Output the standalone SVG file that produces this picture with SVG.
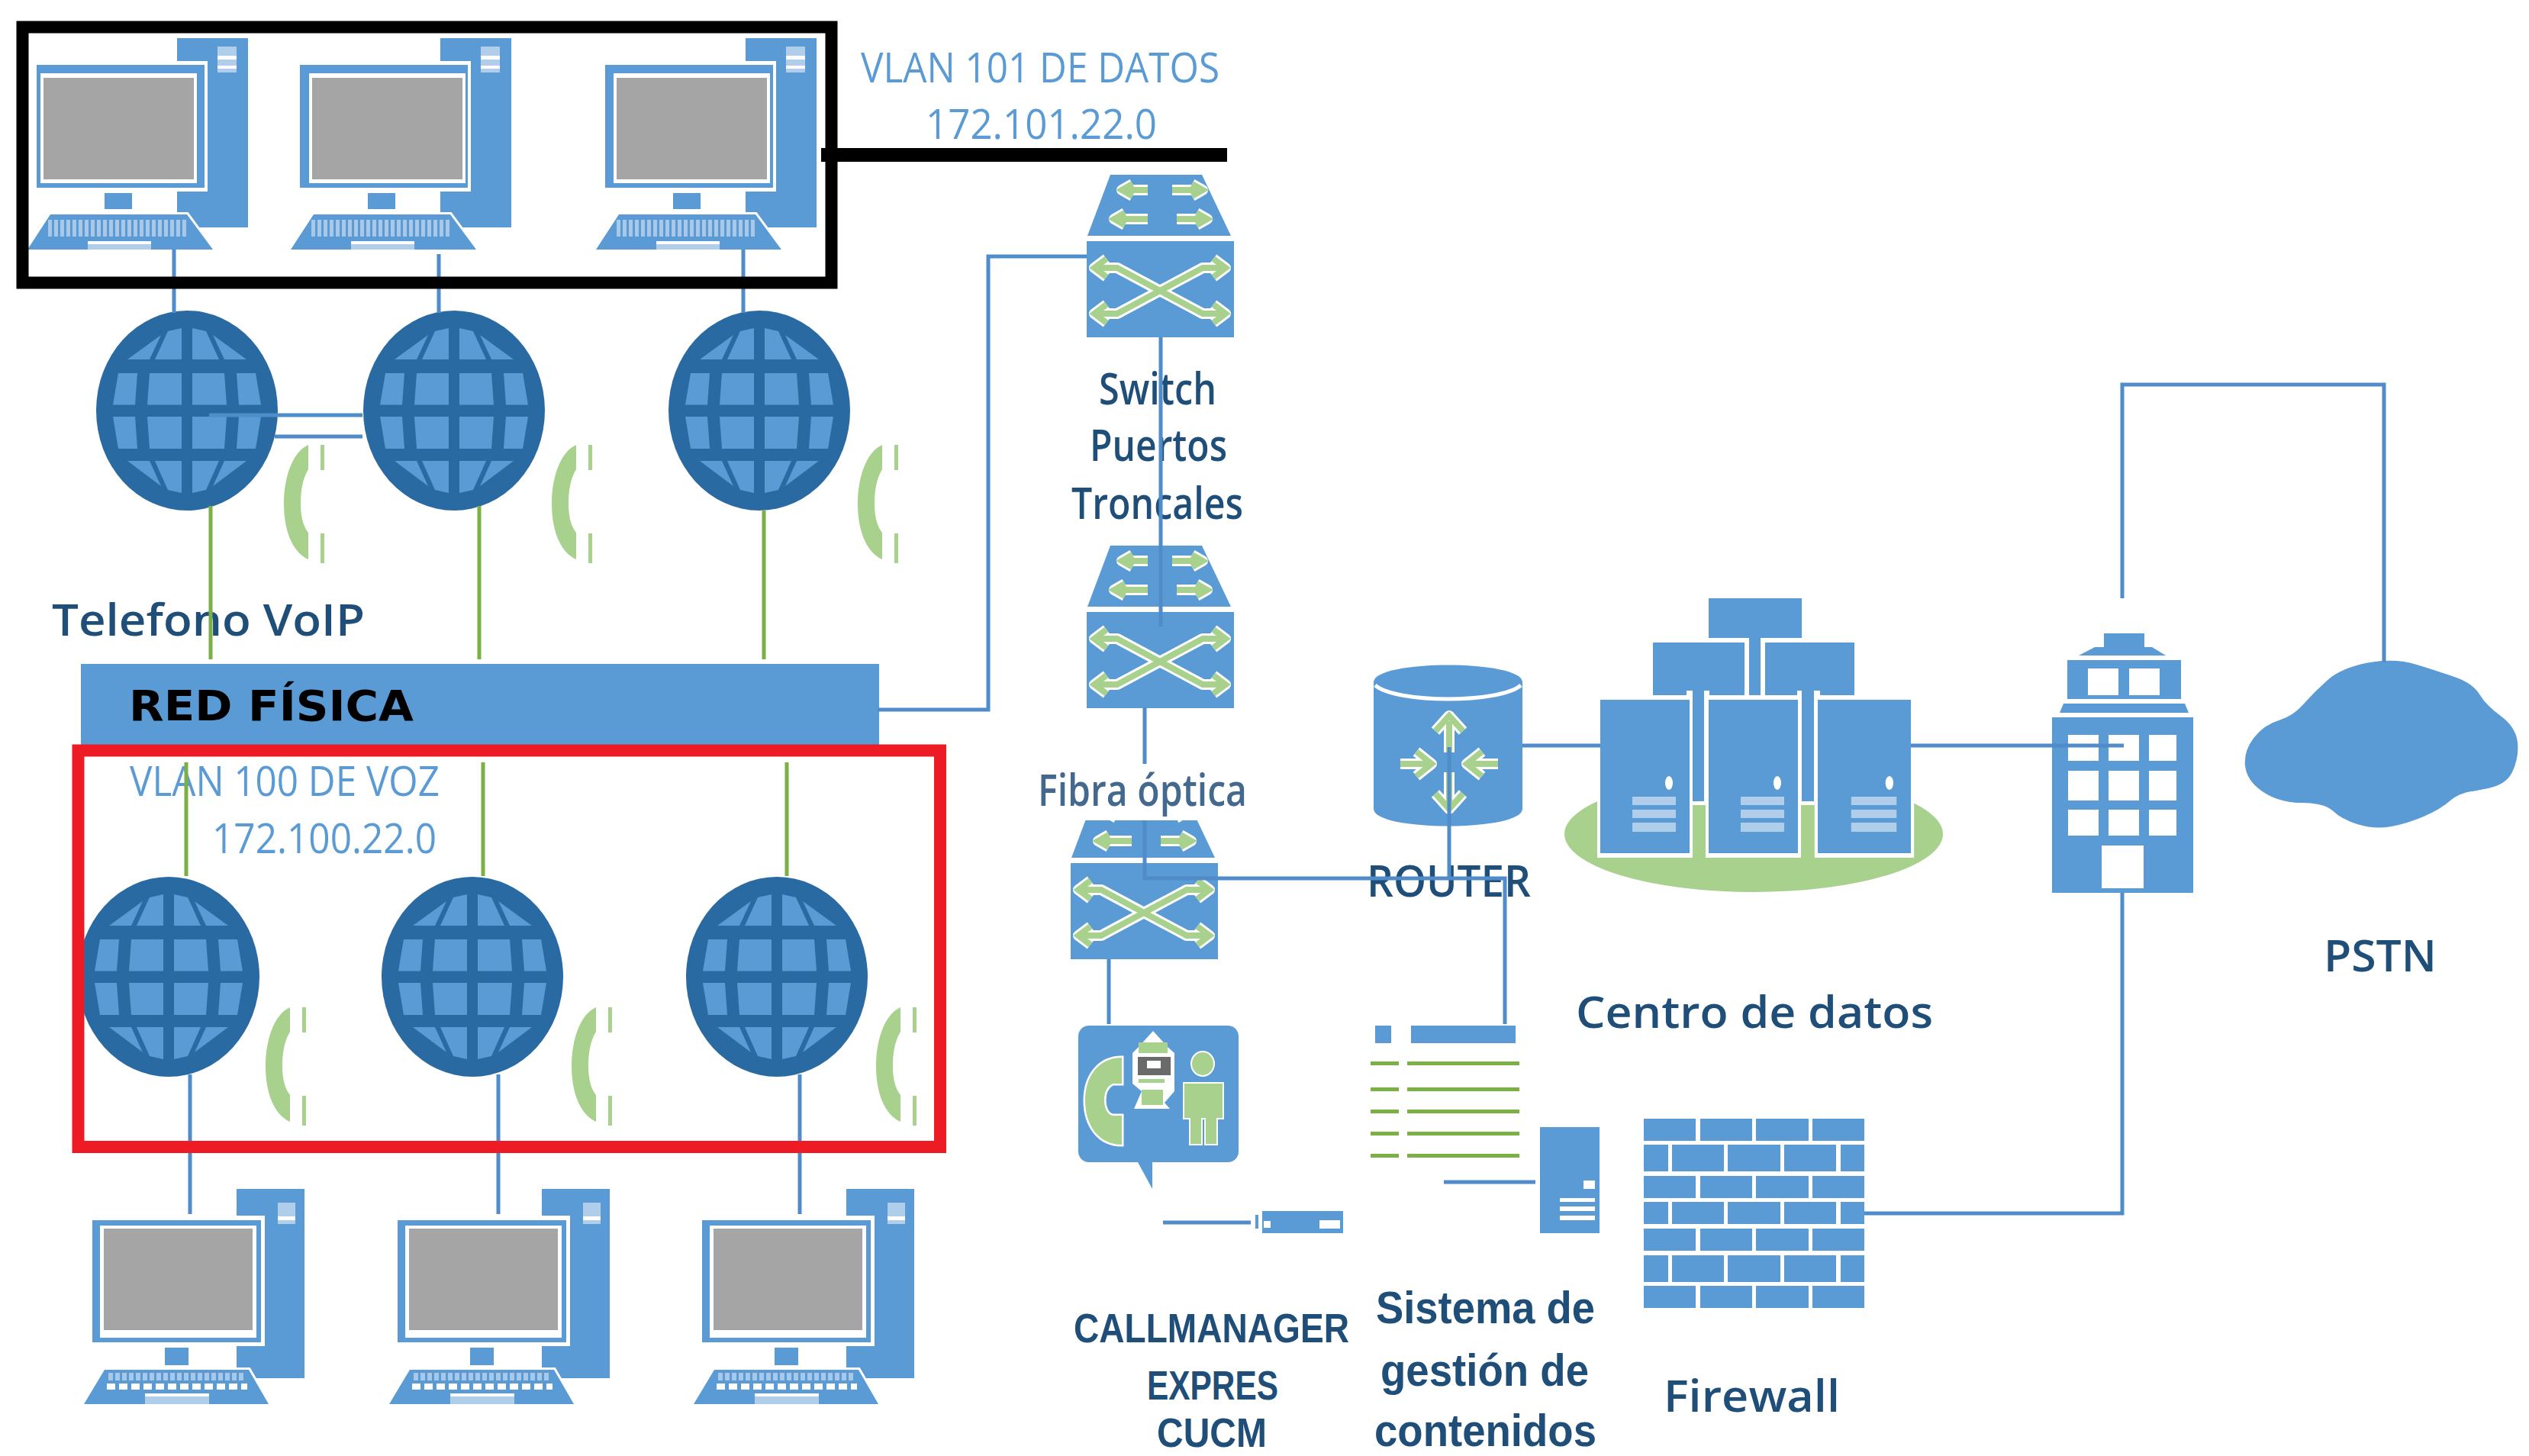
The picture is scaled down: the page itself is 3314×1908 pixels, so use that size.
<svg xmlns="http://www.w3.org/2000/svg" xmlns:xlink="http://www.w3.org/1999/xlink" width="3314" height="1908" viewBox="0 0 3314 1908">
<style>
.b{fill:#5b9bd5}.w{fill:#fff}.lb{fill:#b0cde9}.gy{fill:#a5a5a5}.g{fill:#a9d18e}.dg{fill:#7ab044}.dk{fill:#2a6aa3}
.c{fill:none;stroke:#4f8cc9;stroke-width:5}
.cg{fill:none;stroke:#7ab044;stroke-width:5}
.t{font-family:"Open Sans","Noto Sans",sans-serif;font-weight:600;fill:#1f4e79;font-size:58px}
.t2{font-family:"Liberation Sans",Arial,sans-serif;font-weight:700;fill:#1f4e79}
.v{font-family:"Open Sans","Noto Sans",sans-serif;font-weight:400;fill:#5b9bd5;font-size:54px}
.ah{fill:none;stroke:#fff;stroke-width:14;stroke-linejoin:round}
.ag{fill:none;stroke:#a9d18e;stroke-width:8}
</style>
<defs>
<g id="pcTop">
<rect class="b" x="196" y="0" width="93" height="248"/>
<rect class="lb" x="249" y="11" width="25" height="34"/><rect class="w" x="249" y="23" width="25" height="5"/><rect class="w" x="249" y="36" width="25" height="4"/>
<rect class="w" x="0" y="30" width="236" height="171"/>
<rect class="b" x="12" y="35" width="220" height="161"/>
<rect class="b" x="101" y="203" width="36" height="21"/>
<polygon class="b" points="30,231 209,231 243,277 0,277" stroke="#fff" stroke-width="6" paint-order="stroke"/>
<line x1="27" y1="249" x2="209" y2="249" stroke="#a9c8e8" stroke-width="22" stroke-dasharray="5 3"/>
<rect class="lb" x="79" y="266" width="83" height="11"/><rect class="w" x="79" y="266" width="83" height="4"/>
</g>
<g id="screenTop"><rect class="w" x="0" y="0" width="205" height="144"/><rect class="gy" x="4" y="6" width="197" height="133"/></g>
<g id="pcBot">
<rect class="b" x="200" y="0" width="89" height="248"/>
<rect class="lb" x="254" y="18" width="23" height="28"/><rect class="w" x="254" y="36" width="23" height="5"/>
<rect class="w" x="0" y="35" width="237" height="171"/>
<rect class="b" x="11" y="41" width="221" height="160"/><rect class="w" x="21" y="48" width="205" height="147"/><rect class="gy" x="26" y="52" width="195" height="133"/>
<rect class="b" x="106" y="208" width="31" height="23"/>
<polygon class="b" points="27,237 216,237 242,282 0,282" stroke="#fff" stroke-width="6" paint-order="stroke"/>
<line x1="32" y1="246" x2="212" y2="246" stroke="#a9c8e8" stroke-width="10" stroke-dasharray="6 3"/>
<line x1="30" y1="259" x2="214" y2="259" stroke="#fff" stroke-width="8" stroke-dasharray="11 5"/>
<rect class="lb" x="80" y="272" width="84" height="10"/><rect class="w" x="80" y="268" width="84" height="4"/>
</g>
<g id="globe">
<ellipse class="dk" rx="119" ry="131"/>
<g class="b">
<polygon points="-90,-49 -65,-49 -68,-7.5 -97,-7.5"/><polygon points="-49,-49 -7,-49 -7,-7.5 -52,-7.5"/><polygon points="7,-49 49,-49 52,-7.5 7,-7.5"/><polygon points="65,-49 90,-49 97,-7.5 68,-7.5"/>
<polygon points="-97,8 -68,8 -65,50 -90,50"/><polygon points="-52,8 -7,8 -7,50 -49,50"/><polygon points="7,8 52,8 49,50 7,50"/><polygon points="68,8 97,8 90,50 65,50"/>
<polygon points="-7,-108 -7,-67 -42,-67 -25,-104"/><polygon points="7,-108 7,-67 42,-67 25,-104"/><polygon points="-78,-67 -34,-99 -49,-67"/><polygon points="78,-67 34,-99 49,-67"/>
<polygon points="-7,108 -7,66 -42,66 -25,104"/><polygon points="7,108 7,66 42,66 25,104"/><polygon points="-78,66 -34,99 -49,66"/><polygon points="78,66 34,99 49,66"/>
</g>
</g>
<g id="phone">
<path class="g" d="M32 0C10 10 0 45 0 77C0 110 10 140 32 150L32 115C24 105 22 90 22 77C22 62 24 45 32 32Z"/>
<rect class="g" x="48" y="0" width="5" height="33"/><rect class="g" x="48" y="116" width="5" height="39"/>
</g>
<path id="swArrows" d="M14 122H40L96 152L152 122H178M14 182H40L96 152L152 182H178M26 110L10 122L26 134M26 170L10 182L26 194M166 110L182 122L166 134M166 170L182 182L166 194M80 20H48M60 12L46 20L60 28M80 58H38M50 50L36 58L50 66M112 20H150M138 12L152 20L138 28M118 58H156M144 50L158 58L144 66"/>
<path id="rtA" d="M1899 945V986M1881 958L1899 938L1917 958M1899 1012V1052M1881 1040L1899 1060L1917 1040M1835 1001H1872M1856 985L1876 1001L1856 1017M1963 1001H1926M1942 985L1922 1001L1942 1017"/>
<g id="switch">
<polygon class="b" points="31,0 151,0 189,80 1,80"/>
<rect class="b" x="0" y="87" width="193" height="126"/>
<use href="#swArrows" class="ah"/><use href="#swArrows" class="ag"/>
</g>
<g id="rack">
<rect class="w" x="-4" y="-6" width="125" height="213"/>
<rect class="b" x="0" y="0" width="117" height="201"/>
<ellipse class="w" cx="90" cy="109" rx="5" ry="9"/>
<rect class="lb" x="42" y="127" width="57" height="11"/><rect class="lb" x="42" y="144" width="57" height="11"/><rect class="lb" x="42" y="161" width="57" height="12"/>
</g>
</defs>
<rect width="3314" height="1908" fill="#fff"/>

<g id="pcs-top">
<g id="pc-t1"><use href="#pcTop" x="36" y="50"/><use href="#screenTop" x="53" y="96"/></g>
<g id="pc-t2"><use href="#pcTop" x="381" y="50"/><use href="#screenTop" x="405" y="96"/></g>
<g id="pc-t3"><use href="#pcTop" x="781" y="50"/><use href="#screenTop" x="804" y="96"/></g>
</g>
<g id="globes-top">
<use id="globe-t1" href="#globe" x="245" y="538"/><use id="globe-t2" href="#globe" x="595" y="538"/><use id="globe-t3" href="#globe" x="995" y="538"/>
</g>
<g id="phones-top">
<use href="#phone" x="372" y="583"/><use href="#phone" x="723" y="583"/><use href="#phone" x="1124" y="583"/>
</g>
<g id="red-fisica">
<rect class="b" x="106" y="870" width="1046" height="110"/>
<text x="169" y="944" font-family="'DejaVu Sans',sans-serif" font-weight="700" font-size="56" fill="#000" textLength="373" lengthAdjust="spacingAndGlyphs">RED FÍSICA</text>
</g>
<g id="globes-bot">
<use id="globe-b1" href="#globe" x="221" y="1280"/><use id="globe-b2" href="#globe" x="619" y="1280"/><use id="globe-b3" href="#globe" x="1018" y="1280"/>
</g>
<g id="phones-bot">
<use href="#phone" x="348" y="1320"/><use href="#phone" x="749" y="1320"/><use href="#phone" x="1148" y="1320"/>
</g>
<g id="pcs-bot">
<use id="pc-b1" href="#pcBot" x="110" y="1558"/><use id="pc-b2" href="#pcBot" x="510" y="1558"/><use id="pc-b3" href="#pcBot" x="909" y="1558"/>
</g>
<g id="switches">
<use id="sw1" href="#switch" x="1424" y="229"/><use id="sw2" href="#switch" x="1424" y="715"/><use id="sw3" href="#switch" x="1403" y="1044"/>
<rect class="w" x="1395" y="1040" width="210" height="35"/>
</g>
<g id="router">
<path class="b" d="M1800 894C1800 864 1995 864 1995 894V1060C1995 1090 1800 1090 1800 1060Z"/>
<path d="M1802 898C1830 922 1965 922 1993 898" fill="none" stroke="#fff" stroke-width="5"/>
<use href="#rtA" class="ah"/><use href="#rtA" class="ag"/>
</g>
<g id="datacenter">
<ellipse class="g" cx="2298" cy="1093" rx="248" ry="76"/>
<rect class="b" x="2239" y="784" width="122" height="52"/>
<rect class="b" x="2166" y="842" width="120" height="69"/><rect class="b" x="2313" y="842" width="117" height="69"/>
<rect class="b" x="2292" y="836" width="15" height="75"/>
<rect class="w" x="2210" y="905" width="30" height="150"/><rect class="w" x="2355" y="905" width="30" height="150"/>
<rect class="b" x="2218" y="905" width="15" height="145"/><rect class="b" x="2361" y="905" width="16" height="145"/>
<use href="#rack" x="2097" y="917"/><use href="#rack" x="2239" y="917"/><use href="#rack" transform="translate(2382,917) scale(1.043,1)"/>
</g>
<g id="building">
<rect class="b" x="2757" y="830" width="53" height="20"/>
<polygon class="b" points="2745,848 2820,848 2838,859 2724,859"/>
<rect class="b" x="2709" y="865" width="149" height="51"/>
<rect class="w" x="2736" y="876" width="40" height="35"/><rect class="w" x="2790" y="876" width="40" height="35"/>
<polygon class="b" points="2704,922 2863,922 2868,934 2699,934"/>
<rect class="b" x="2689" y="940" width="185" height="230"/>
<g class="w">
<rect x="2710" y="963" width="40" height="34"/><rect x="2763" y="963" width="40" height="34"/><rect x="2816" y="963" width="36" height="34"/>
<rect x="2710" y="1010" width="40" height="39"/><rect x="2763" y="1010" width="40" height="39"/><rect x="2816" y="1010" width="36" height="39"/>
<rect x="2710" y="1061" width="40" height="34"/><rect x="2763" y="1061" width="40" height="34"/><rect x="2816" y="1061" width="36" height="34"/>
<rect x="2754" y="1108" width="55" height="56"/>
</g>
</g>
<g id="cloud" class="b">
<path stroke="#5b9bd5" stroke-width="8" stroke-linejoin="round" d="M3103.5 872.5Q3137 866 3166.5 875Q3196 884 3217 891.5Q3238 899 3246.5 913Q3255 927 3274 941Q3293 955 3295 973Q3297 991 3289 1009Q3281 1027 3251.5 1030.5Q3222 1034 3209 1045.5Q3196 1057 3175 1066Q3154 1075 3133 1079Q3112 1083 3091 1076.5Q3070 1070 3059.5 1059.5Q3049 1049 3017.5 1048Q2986 1047 2967 1034Q2948 1021 2946 1003.5Q2944 986 2956.5 969.5Q2969 953 2988 947.5Q3007 942 3021.5 925.5Q3036 909 3053 894Q3070 879 3103.5 872.5Z"/>
<ellipse cx="3130" cy="945" rx="95" ry="79"/><ellipse cx="3195" cy="935" rx="55" ry="46"/><ellipse cx="3225" cy="988" rx="72" ry="50"/><ellipse cx="3015" cy="1000" rx="71" ry="52"/><ellipse cx="3112" cy="1020" rx="70" ry="63"/>
</g>
<g id="callmanager">
<rect class="b" x="1413" y="1344" width="210" height="179" rx="14"/>
<polygon class="b" points="1491,1523 1510,1523 1510,1558"/>
<path class="g" stroke="#fff" stroke-width="5" paint-order="stroke" d="M1470 1386C1440 1386 1422 1410 1422 1442C1422 1475 1440 1500 1470 1500V1462H1458C1450 1460 1447 1450 1447 1442C1447 1432 1450 1424 1458 1420H1470Z"/>
<polygon class="w" points="1511,1351 1530,1372 1539,1380 1539,1430 1526,1445 1533,1453 1486,1453 1496,1430 1484,1420 1484,1380 1492,1372"/>
<rect class="g" x="1492" y="1366" width="38" height="14"/>
<rect x="1491" y="1385" width="43" height="24" fill="#6a6a6a"/><rect class="w" x="1503" y="1390" width="18" height="10"/>
<rect class="g" x="1492" y="1414" width="34" height="5"/><rect class="g" x="1496" y="1428" width="28" height="20"/>
<g class="g" stroke="#fff" stroke-width="4" paint-order="stroke">
<ellipse cx="1576" cy="1394" rx="14" ry="15"/>
<path d="M1552 1420H1602V1465H1594V1499H1580V1465H1574V1499H1560V1465H1552Z"/>
</g>
<rect class="b" x="1654" y="1587" width="106" height="29"/><rect class="w" x="1729" y="1599" width="27" height="11"/><rect class="w" x="1656" y="1600" width="9" height="9"/>
<rect class="b" x="1645" y="1592" width="4" height="18"/>
</g>
<g id="cms">
<rect class="b" x="1802" y="1344" width="21" height="23"/><rect class="b" x="1849" y="1344" width="137" height="23"/>
<g class="dg">
<rect x="1796" y="1391" width="37" height="5"/><rect x="1844" y="1391" width="147" height="5"/>
<rect x="1796" y="1425" width="37" height="5"/><rect x="1844" y="1425" width="147" height="5"/>
<rect x="1796" y="1454" width="37" height="5"/><rect x="1844" y="1454" width="147" height="5"/>
<rect x="1796" y="1483" width="37" height="5"/><rect x="1844" y="1483" width="147" height="5"/>
<rect x="1796" y="1512" width="37" height="5"/><rect x="1844" y="1512" width="147" height="5"/>
</g>
<rect class="b" x="2018" y="1477" width="78" height="139"/>
<rect class="w" x="2075" y="1547" width="15" height="11"/>
<rect class="w" x="2044" y="1570" width="46" height="5"/><rect class="w" x="2044" y="1581" width="46" height="6"/><rect class="w" x="2044" y="1593" width="46" height="6"/>
</g>
<g id="firewall" class="b">
<rect x="2154" y="1466" width="68" height="29"/><rect x="2228" y="1466" width="68" height="29"/><rect x="2301" y="1466" width="69" height="29"/><rect x="2375" y="1466" width="68" height="29"/>
<rect x="2154" y="1500" width="32" height="35"/><rect x="2191" y="1500" width="68" height="35"/><rect x="2264" y="1500" width="69" height="35"/><rect x="2338" y="1500" width="68" height="35"/><rect x="2412" y="1500" width="31" height="35"/>
<rect x="2154" y="1541" width="68" height="29"/><rect x="2228" y="1541" width="68" height="29"/><rect x="2301" y="1541" width="69" height="29"/><rect x="2375" y="1541" width="68" height="29"/>
<rect x="2154" y="1575" width="32" height="29"/><rect x="2191" y="1575" width="68" height="29"/><rect x="2264" y="1575" width="69" height="29"/><rect x="2338" y="1575" width="68" height="29"/><rect x="2412" y="1575" width="31" height="29"/>
<rect x="2154" y="1610" width="68" height="29"/><rect x="2228" y="1610" width="68" height="29"/><rect x="2301" y="1610" width="69" height="29"/><rect x="2375" y="1610" width="68" height="29"/>
<rect x="2154" y="1645" width="32" height="35"/><rect x="2191" y="1645" width="68" height="35"/><rect x="2264" y="1645" width="69" height="35"/><rect x="2338" y="1645" width="68" height="35"/><rect x="2412" y="1645" width="31" height="35"/>
<rect x="2154" y="1685" width="68" height="29"/><rect x="2228" y="1685" width="68" height="29"/><rect x="2301" y="1685" width="69" height="29"/><rect x="2375" y="1685" width="68" height="29"/>
</g>

<g id="labels">
<text class="v" x="1128" y="108" textLength="470" lengthAdjust="spacingAndGlyphs">VLAN 101 DE DATOS</text>
<text class="v" x="1213" y="182" textLength="303" lengthAdjust="spacingAndGlyphs">172.101.22.0</text>
<text class="v" x="170" y="1043" textLength="406" lengthAdjust="spacingAndGlyphs">VLAN 100 DE VOZ</text>
<text class="v" x="278" y="1118" textLength="294" lengthAdjust="spacingAndGlyphs">172.100.22.0</text>
<text class="t" x="68" y="833" textLength="410" lengthAdjust="spacingAndGlyphs">Telefono VoIP</text>
<text class="t" x="1440" y="530" textLength="154" lengthAdjust="spacingAndGlyphs">Switch</text>
<text class="t" x="1428" y="604" textLength="180" lengthAdjust="spacingAndGlyphs">Puertos</text>
<text class="t" x="1404" y="680" textLength="225" lengthAdjust="spacingAndGlyphs">Troncales</text>
<text class="t" x="1360" y="1056" textLength="274" lengthAdjust="spacingAndGlyphs" style="fill:#44698f">Fibra óptica</text>
<text class="t" x="1791" y="1175" textLength="215" lengthAdjust="spacingAndGlyphs">ROUTER</text>
<text class="t" x="2065" y="1347" textLength="468" lengthAdjust="spacingAndGlyphs">Centro de datos</text>
<text class="t" x="3045" y="1273" textLength="148" lengthAdjust="spacingAndGlyphs">PSTN</text>
<text class="t2" font-size="54" x="1407" y="1759" textLength="361" lengthAdjust="spacingAndGlyphs">CALLMANAGER</text>
<text class="t2" font-size="54" x="1503" y="1834" textLength="172" lengthAdjust="spacingAndGlyphs">EXPRES</text>
<text class="t2" font-size="54" x="1516" y="1896" textLength="144" lengthAdjust="spacingAndGlyphs">CUCM</text>
<text class="t2" font-size="60" x="1803" y="1734" textLength="287" lengthAdjust="spacingAndGlyphs">Sistema de</text>
<text class="t2" font-size="60" x="1809" y="1816" textLength="273" lengthAdjust="spacingAndGlyphs">gestión de</text>
<text class="t2" font-size="60" x="1801" y="1895" textLength="291" lengthAdjust="spacingAndGlyphs">contenidos</text>
<text class="t" x="2180" y="1850" textLength="231" lengthAdjust="spacingAndGlyphs">Firewall</text>
</g>

<g id="connectors">
<path class="c" d="M228 327V410M575 333V410M974 327V410"/>
<path class="c" d="M274 544H475M360 572H475"/>
<path class="cg" d="M276 663V864M628 663V864M1001 669V864"/>
<path class="cg" d="M244 999V1148M633 999V1148M1031 999V1148"/>
<path class="c" d="M249 1408V1591M653 1408V1591M1048 1408V1591"/>
<path class="c" d="M1424 336H1295V930H1150"/>
<path class="c" d="M1521 442V821"/>
<path class="c" d="M1500 927V1001M1500 1075V1151H1972V1342"/>
<path class="c" d="M1899 979V1151"/>
<path class="c" d="M1453 1257V1342"/>
<path class="c" d="M1995 977H2097M2504 977H2783"/>
<path class="c" d="M2781 784V504H3124V868"/>
<path class="c" d="M2781 1170V1590H2443"/>
<path class="c" d="M1524 1602H1639M1892 1549H2012"/>
</g>

<g id="frames">
<rect id="frame-datos" x="29.5" y="35.5" width="1060" height="335" fill="none" stroke="#000" stroke-width="16"/>
<rect id="frame-voz" x="102.5" y="983.5" width="1129.5" height="519.5" fill="none" stroke="#ed1c24" stroke-width="16"/>
<rect x="1076" y="194" width="532" height="18" fill="#000"/>
</g>
</svg>
